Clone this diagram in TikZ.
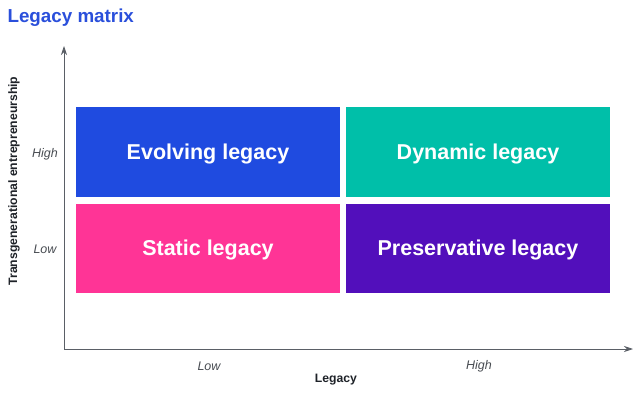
\documentclass[tikz,border=0pt]{standalone}
\usepackage{fontspec}
\setmainfont{Liberation Sans}
\usetikzlibrary{arrows.meta}
\definecolor{cblue}{HTML}{1F4BE0}
\definecolor{cteal}{HTML}{00BFA9}
\definecolor{cpink}{HTML}{FF3496}
\definecolor{cpurple}{HTML}{520FBB}
\definecolor{ctitle}{HTML}{2A4FDB}
\definecolor{caxis}{HTML}{5A5F66}
\definecolor{ctext}{HTML}{1E2228}
\begin{document}
\begin{tikzpicture}[x=1pt,y=-1pt,
  quad/.style={draw=none,minimum width=264pt,minimum height=90pt,inner sep=0pt,text=white,font=\fontsize{21.5}{26}\selectfont\bfseries},
  qlabel/.style={text=white,font=\fontsize{21.5}{26}\selectfont\bfseries},
  axislabel/.style={font=\fontsize{12.2}{14}\selectfont\bfseries,text=ctext},
  ticklabel/.style={font=\fontsize{12.5}{14}\selectfont\itshape,text=caxis!80!black},
  axisline/.style={draw=caxis,line width=0.8pt,-{Stealth[length=9pt,width=6pt]}}]
\useasboundingbox (0,0) rectangle (643,401);
\node[anchor=west,font=\fontsize{18.8}{22}\selectfont\bfseries,text=ctitle] (title) at (4,18) {Legacy matrix};
\coordinate (origin) at (64,349);
\coordinate (ytip) at (64,46);
\coordinate (xtip) at (633,349);
\draw[axisline] (origin) -- (ytip);
\draw[axisline] (origin) -- (xtip);
\node[quad,fill=cblue] (evolving) at (208,152) {};
\node[quad,fill=cteal] (dynamic) at (478,152) {};
\node[quad,fill=cpink,minimum height=89pt] (static) at (208,248.5) {};
\node[quad,fill=cpurple,minimum height=89pt] (preservative) at (478,248.5) {};
\node[qlabel] (evolvingtext) at (208,154) {Evolving legacy};
\node[qlabel] (dynamictext) at (478,154) {Dynamic legacy};
\node[qlabel] (statictext) at (208,250) {Static legacy};
\node[qlabel] (preservativetext) at (478,250) {Preservative legacy};
\node[ticklabel] (yhigh) at (45,154) {High};
\node[ticklabel] (ylow) at (45,249) {Low};
\node[ticklabel] (xlow) at (209,366) {Low};
\node[ticklabel] (xhigh) at (479,366) {High};
\node[axislabel] (xlabel) at (336,380) {Legacy};
\node[axislabel,rotate=90] (ylabel) at (14,181) {Transgenerational entrepreneurship};
\end{tikzpicture}
\end{document}
